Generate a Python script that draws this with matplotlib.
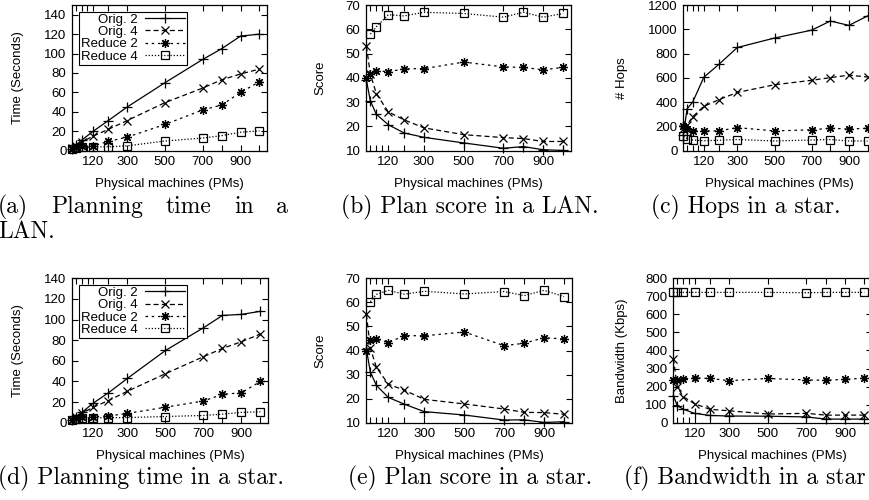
import matplotlib
matplotlib.use('Agg')
import matplotlib.pyplot as plt
import numpy as np

plt.rcParams['font.family'] = ['Liberation Sans', 'DejaVu Sans']
plt.rcParams['font.size'] = 9.5

W, H = 870, 500

pms = [10, 30, 60, 120, 200, 300, 500, 700, 800, 900, 1000]
xtick_pos = [30, 60, 90, 120, 200, 300, 500, 700, 800, 900, 1000]
xtick_lab = ['', '', '', '120', '', '300', '500', '700', '', '900', '']
names = ['Orig. 2', 'Orig. 4', 'Reduce 2', 'Reduce 4']
nan = np.nan

# (a) planning time, LAN
time_lan_o2 = [2, 6, 11, 20, 31, 45, 70, 94, 105, 118, 120]
time_lan_o4 = [2.5, 5, 9, 15, 22, 31, 49.5, 64.5, 73, 79, 84]
time_lan_r2 = [2, 4, 5, 5, 9.5, 14, 27, 42, 47, 60, 71]
time_lan_r4 = [2, 3, 3.5, 4, 4, 5, 10, 13, 15.5, 19, 20.5]

# (b) plan score, LAN
score_lan_o2 = [39, 30.5, 25, 20.7, 17.3, 15.5, 13.2, 11, 11.7, 10.4, 10.1]
score_lan_o4 = [53, 41.5, 33.5, 26, 22.7, 19.4, 16.6, 15.4, 15, 13.8, 13.8]
score_lan_r2 = [40, 41.5, 43, 42.5, 43.7, 43.8, 46.5, 44.5, 44.3, 43.3, 44.3]
score_lan_r4 = [nan, 58, 61, 66, 65.5, 67, 66.5, 65, 67, 65, 66.5]

# (c) hops, star
hops_o2 = [130, 345, 400, 605, 710, 850, 928, 993, 1068, 1032, 1110]
hops_o4 = [180, 210, 280, 365, 420, 480, 543, 580, 602, 622, 607]
hops_r2 = [200, 180, 165, 163, 163, 190, 163, 172, 185, 178, 185]
hops_r4 = [120, 100, 88, 82, 86, 92, 80, 88, 92, 80, 80]

# (d) planning time, star
time_star_o2 = [2.5, 6, 10, 19, 29, 43, 70, 92, 104, 105, 108]
time_star_o4 = [2.6, 5.8, 9, 15, 21.5, 30.5, 47.5, 64, 72, 78.5, 86]
time_star_r2 = [2.6, 4.8, 5.5, 5.8, 6.5, 9, 15, 21, 27.5, 29, 40]
time_star_r4 = [2.6, 4, 4.5, 4.8, 4.8, 5, 6, 7, 8.3, 10, 10.5]

# (e) plan score, star
score_star_o2 = [40.5, 31, 25.5, 20.5, 17.7, 14.6, 13.2, 11.1, 11.2, 10.1, 10.4]
score_star_o4 = [55, 41, 33, 26, 23.5, 19.7, 17.8, 15.7, 14.3, 14.2, 13.5]
score_star_r2 = [40, 44.3, 44.7, 43.3, 46.2, 46.1, 47.7, 42, 43, 45.3, 44.8]
score_star_r4 = [nan, 60.3, 63.3, 65, 63.4, 64.6, 63.5, 64.5, 62.8, 65, 62.4]

# (f) bandwidth, star
bw_o2 = [150, 95, 75, 52, 40, 37, 36, 32, 20, 20, 20]
bw_o4 = [355, 200, 145, 105, 74, 66, 48, 52, 42, 42, 42]
bw_r2 = [237, 235, 243, 248, 245, 233, 245, 237, 235, 240, 247]
bw_r4 = [722, 722, 722, 722, 722, 722, 722, 720, 722, 722, 722]

styles = [
    dict(ls='-', marker='+', ms=7, mew=0.9),
    dict(ls=(0, (4, 2.5)), marker='x', ms=5.5, mew=0.9),
    dict(ls=(0, (2, 3)), marker=(8, 2, 0), ms=6.5, mew=0.9),
    dict(ls=(0, (1, 1.5)), marker='s', ms=6, mew=0.9, mfc='none'),
]

fig = plt.figure(figsize=(W / 100, H / 100), dpi=100)


def panel(box, series, ylim, yticks, ylabel, ylab_x, legend=False):
    x0, y0, x1, y1 = box
    ax = fig.add_axes([x0 / W, 1 - y1 / H, (x1 - x0) / W, (y1 - y0) / H])
    for vals, name, st in zip(series, names, styles):
        ax.plot(pms, vals, color='black', lw=0.9, label=name, clip_on=False, **st)
    ax.set_xlim(8, 1040)
    ax.set_ylim(*ylim)
    ax.set_xticks(xtick_pos)
    ax.set_xticklabels(xtick_lab)
    ax.set_yticks(yticks)
    ax.tick_params(direction='in', length=4, width=0.8, top=True, right=True,
                   pad=4, labelsize=9.5, colors='black')
    for s in ax.spines.values():
        s.set_linewidth(0.9)
    ax.set_xlabel('Physical machines (PMs)', fontsize=9.5, va='center')
    ax.xaxis.set_label_coords(0.5, -(33.0 / (y1 - y0)))
    ax.set_ylabel(ylabel, fontsize=9.5, va='center')
    ax.yaxis.set_label_coords((ylab_x - x0) / (x1 - x0), 0.5)
    if legend:
        leg = ax.legend(loc='upper left', markerfirst=False, fancybox=False,
                        edgecolor='black', framealpha=1, fontsize=9.5,
                        handlelength=3.0, handletextpad=0.6, labelspacing=0.0,
                        borderpad=0.15, borderaxespad=0.5)
        leg.get_frame().set_linewidth(0.8)
    return ax


row1 = (5, 150.7)
row2 = (278.3, 422.7)

panel((72, row1[0], 267, row1[1]), [time_lan_o2, time_lan_o4, time_lan_r2, time_lan_r4],
      (0, 150), range(0, 141, 20), 'Time (Seconds)', 18, legend=True)
panel((366, row1[0], 571, row1[1]), [score_lan_o2, score_lan_o4, score_lan_r2, score_lan_r4],
      (10, 70), range(10, 71, 10), 'Score', 320)
panel((683, row1[0], 875, row1[1]), [hops_o2, hops_o4, hops_r2, hops_r4],
      (0, 1200), range(0, 1201, 200), '# Hops', 622)
panel((72, row2[0], 268, row2[1]), [time_star_o2, time_star_o4, time_star_r2, time_star_r4],
      (0, 140), range(0, 141, 20), 'Time (Seconds)', 18, legend=True)
panel((366, row2[0], 572, row2[1]), [score_star_o2, score_star_o4, score_star_r2, score_star_r4],
      (10, 70), range(10, 71, 10), 'Score', 320)
panel((673, row2[0], 872, row2[1]), [bw_o2, bw_o4, bw_r2, bw_r4],
      (0, 800), range(0, 801, 100), 'Bandwidth (Kbps)', 622)

# sub-captions
cap_font = dict(family='cmr10', size=17)


def caption(text, x, y, ha='center'):
    fig.text(x / W, 1 - y / H, text, ha=ha, va='center', **cap_font)


def justified(words, x0, x1, y):
    r = fig.canvas.get_renderer()
    objs = [fig.text(0, 1 - y / H, w, ha='left', va='center', **cap_font) for w in words]
    widths = [o.get_window_extent(r).width for o in objs]
    gap = (x1 - x0 - sum(widths)) / (len(words) - 1)
    x = x0
    for o, w in zip(objs, widths):
        o.set_x(x / W)
        x += w + gap


justified(['(a)', 'Planning', 'time', 'in', 'a'], -2, 288, 207)
caption('LAN.', -2, 232, ha='left')
caption('(b) Plan score in a LAN.', 470, 207)
caption('(c) Hops in a star.', 651, 207, ha='left')
caption('(d) Planning time in a star.', -2, 478, ha='left')
caption('(e) Plan score in a star.', 470, 478)
caption('(f) Bandwidth in a star', 624, 478, ha='left')

fig.savefig('out.png', dpi=100)
